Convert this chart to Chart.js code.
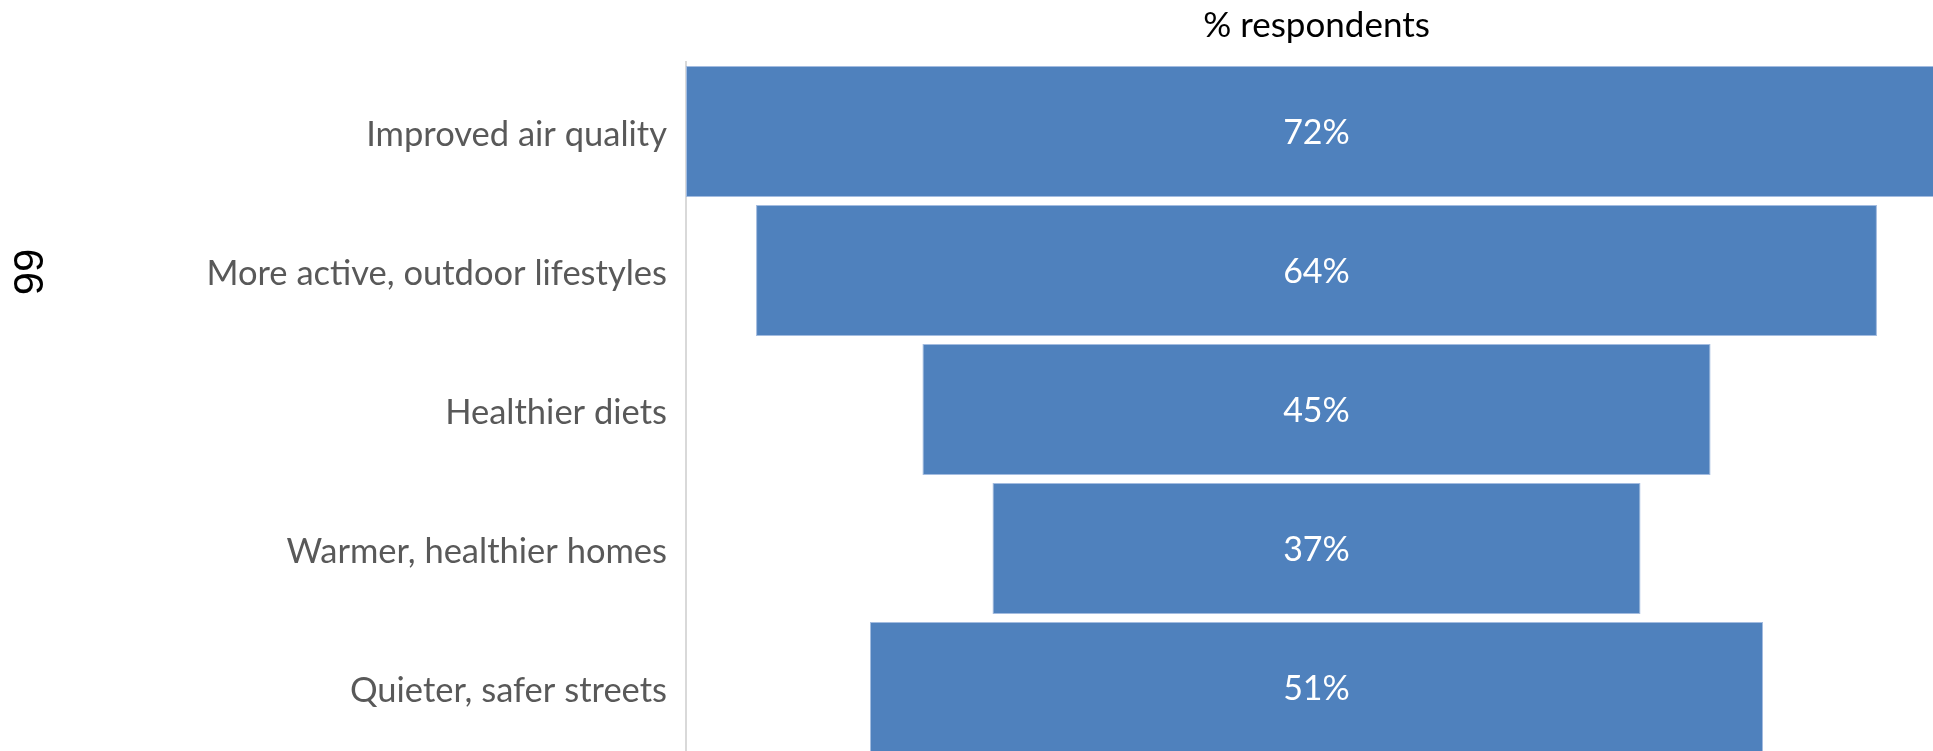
<!DOCTYPE html>
<html>
<head>
<meta charset="utf-8">
<title>Perceived benefits</title>
<script src="https://cdn.jsdelivr.net/npm/chart.js@4"></script>
<style>
  html, body { margin: 0; padding: 0; background: #ffffff; overflow: hidden; }
  #funnel { display: block; }
</style>
</head>
<body>
<canvas id="funnel" width="1947" height="757"></canvas>
<script>
// Survey answers, widest first at the top of the funnel
const categories = [
  'Improved air quality',
  'More active, outdoor lifestyles',
  'Healthier diets',
  'Warmer, healthier homes',
  'Quieter, safer streets'
];
const respondentShare = [72, 64, 45, 37, 51];
const axisTitle = '% respondents';
const sideTitle = '99';

// Each bar is centred on zero, so the scale spans half the largest share either way
const halfRange = Math.max(...respondentShare) / 2;

const FONT = 'Lato, "Open Sans", sans-serif';
const BAR_BLUE = '#4f81bd';

// White percentage written in the middle of every bar
const valueLabels = {
  id: 'valueLabels',
  afterDatasetsDraw(chart) {
    const ctx = chart.ctx;
    const meta = chart.getDatasetMeta(0);
    const cx = chart.scales.x.getPixelForValue(0);
    ctx.save();
    ctx.fillStyle = '#ffffff';
    ctx.font = '34px ' + FONT;
    ctx.textAlign = 'center';
    ctx.textBaseline = 'middle';
    meta.data.forEach((bar, i) => {
      ctx.fillText(respondentShare[i] + '%', cx, bar.y + 2);
    });
    ctx.restore();
  }
};

// Rotated marker text at the far left
const sideLabel = {
  id: 'sideLabel',
  afterDraw(chart) {
    const ctx = chart.ctx;
    ctx.save();
    ctx.translate(31, 272);
    ctx.rotate(-Math.PI / 2);
    ctx.font = '42px "Liberation Sans", Arial, sans-serif';
    ctx.fillStyle = '#000000';
    ctx.textAlign = 'center';
    ctx.textBaseline = 'middle';
    ctx.fillText(sideTitle, 0, 0);
    ctx.restore();
  }
};

new Chart(document.getElementById('funnel'), {
  type: 'bar',
  data: {
    labels: categories,
    datasets: [{
      data: respondentShare.map(v => [-v / 2, v / 2]),
      backgroundColor: BAR_BLUE,
      borderColor: '#a3bce0',
      borderWidth: 1,
      borderSkipped: false,
      barPercentage: 0.941,
      categoryPercentage: 1
    }]
  },
  options: {
    indexAxis: 'y',
    responsive: false,
    animation: false,
    layout: { autoPadding: false, padding: { top: 5, left: 0, right: 0, bottom: 0 } },
    plugins: {
      legend: { display: false },
      tooltip: { enabled: false }
    },
    scales: {
      x: {
        position: 'top',
        min: -halfRange,
        max: halfRange,
        grid: { display: false, drawTicks: false },
        border: { display: false },
        ticks: { display: false },
        title: {
          display: true,
          text: axisTitle,
          color: '#000000',
          font: { family: FONT, size: 35 },
          padding: { top: 0, bottom: 15 }
        }
      },
      y: {
        grid: { display: false, drawTicks: false },
        border: { display: true, color: '#d9d9d9', width: 2 },
        ticks: {
          color: '#595959',
          font: { family: FONT, size: 34.5 },
          padding: 19,
          labelOffset: 3
        },
        afterFit(scale) {
          // fixed label column; the plot runs to the very bottom edge
          scale.width = 686;
          scale.paddingTop = 0;
          scale.paddingBottom = 0;
        }
      }
    }
  },
  plugins: [valueLabels, sideLabel]
});
</script>
</body>
</html>
